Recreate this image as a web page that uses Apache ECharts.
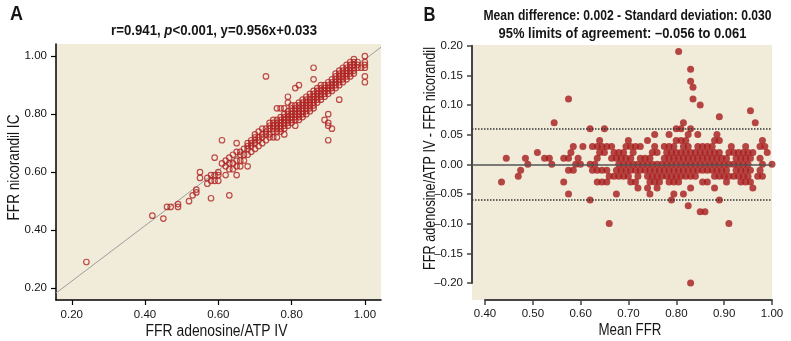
<!DOCTYPE html>
<html><head><meta charset="utf-8">
<script src="https://cdn.jsdelivr.net/npm/echarts@6/dist/echarts.min.js"></script>
<style>html,body{margin:0;padding:0;background:#fff}#c{width:791px;height:341px}</style>
</head><body><div id="c"></div>
<script>
// ---------- Panel A data: FFR adenosine/ATP IV (x) vs FFR nicorandil IC (y) ----------
const aTicks = [0.2, 0.4, 0.6, 0.8, 1.0];
const aCols = [
 [0.24,[0.29]],[0.42,[0.45]],[0.45,[0.44]],[0.46,[0.48]],[0.47,[0.48]],
 [0.49,[0.49,0.48]],[0.52,[0.50]],[0.53,[0.52]],[0.54,[0.54,0.53]],
 [0.55,[0.60,0.58]],[0.57,[0.58,0.56]],[0.58,[0.59,0.57,0.51]],[0.59,[0.59,0.57,0.65]],
 [0.60,[0.60,0.59,0.57]],[0.61,[0.63,0.71]],[0.62,[0.59,0.62,0.64]],[0.63,[0.52,0.61,0.63,0.65]],
 [0.64,[0.61,0.63,0.66]],[0.65,[0.59,0.62,0.64,0.67,0.70]],[0.66,[0.62,0.64,0.66,0.67]],
 [0.67,[0.64,0.66,0.68]],[0.68,[0.62,0.66,0.68,0.69,0.70]],[0.69,[0.67,0.69,0.70,0.71]],
 [0.70,[0.68,0.70,0.71,0.72,0.73]],[0.71,[0.69,0.71,0.72,0.74]],[0.72,[0.70,0.72,0.73,0.75]],
 [0.73,[0.71,0.73,0.74,0.75,0.93]],[0.74,[0.72,0.73,0.75,0.76,0.77]],
 [0.75,[0.72,0.74,0.75,0.76,0.77,0.78]],[0.76,[0.72,0.74,0.75,0.76,0.77,0.78,0.82]],
 [0.77,[0.74,0.75,0.76,0.77,0.78,0.79,0.82]],[0.78,[0.73,0.75,0.76,0.77,0.78,0.79,0.80,0.82]],
 [0.79,[0.76,0.77,0.78,0.79,0.80,0.81,0.84,0.86]],[0.80,[0.77,0.78,0.79,0.80,0.81,0.82,0.83]],
 [0.81,[0.76,0.78,0.79,0.80,0.81,0.82,0.83,0.89]],[0.82,[0.78,0.79,0.80,0.81,0.82,0.83,0.84,0.90]],
 [0.83,[0.79,0.80,0.81,0.82,0.83,0.84,0.85]],[0.84,[0.80,0.81,0.82,0.83,0.84,0.85,0.86]],
 [0.85,[0.81,0.82,0.83,0.84,0.85,0.86,0.87]],[0.86,[0.82,0.83,0.84,0.85,0.86,0.87,0.88,0.92,0.96]],
 [0.87,[0.84,0.85,0.86,0.87,0.88,0.89]],[0.88,[0.85,0.86,0.87,0.88,0.89,0.90]],
 [0.89,[0.78,0.86,0.87,0.88,0.89,0.90]],[0.90,[0.71,0.76,0.77,0.80,0.87,0.88,0.89,0.90,0.91]],
 [0.91,[0.75,0.88,0.89,0.90,0.91,0.92]],[0.92,[0.89,0.90,0.91,0.92,0.93,0.94]],
 [0.93,[0.85,0.90,0.91,0.92,0.93,0.94,0.95]],[0.94,[0.91,0.92,0.93,0.94,0.95,0.96]],
 [0.95,[0.92,0.93,0.94,0.95,0.96,0.97]],[0.96,[0.93,0.94,0.95,0.96,0.97,0.98]],
 [0.97,[0.94,0.95,0.96,0.97,0.98,0.99]],[0.98,[0.96,0.97,0.98]],[0.99,[0.96]],
 [1.00,[0.91,0.93,0.96,0.97,0.98,1.00]]
];
const aFitLine = [[0.157, 0.183], [1.044, 1.031]];   // y = 0.956x + 0.033

// ---------- Panel B data: Bland-Altman (mean FFR, difference) ----------
const bXTicksRange = [0.4, 1.0];
const bYTicksRange = [-0.2, 0.2];
const bRefLine = 0.0;
const bLimits = [0.061, -0.056];
const bRows = [
 [0.19,[0.805]],[0.16,[0.83]],[0.14,[0.83]],[0.13,[0.835]],[0.11,[0.575,0.835]],
 [0.10,[0.85]],[0.09,[0.955]],[0.08,[0.89]],[0.07,[0.545,0.815,0.965]],
 [0.06,[0.62,0.65,0.80,0.81,0.83]],[0.05,[0.755,0.785,0.825,0.845,0.885]],
 [0.04,[0.64,0.70,0.74,0.80,0.81,0.82,0.88,0.89,0.98]],
 [0.03,[0.585,0.605,0.625,0.635,0.645,0.655,0.665,0.695,0.705,0.715,0.725,0.755,0.775,0.785,0.795,0.815,0.825,0.845,0.855,0.865,0.875,0.915,0.945,0.975,0.985]],
 [0.02,[0.51,0.58,0.64,0.65,0.67,0.68,0.69,0.71,0.75,0.76,0.78,0.79,0.80,0.81,0.82,0.83,0.84,0.85,0.86,0.87,0.88,0.89,0.91,0.92,0.93,0.94,0.95,0.96,0.99]],
 [0.01,[0.445,0.485,0.525,0.535,0.565,0.575,0.595,0.635,0.665,0.675,0.685,0.695,0.705,0.725,0.735,0.745,0.775,0.785,0.795,0.805,0.815,0.825,0.835,0.845,0.855,0.865,0.875,0.885,0.895,0.905,0.925,0.935,0.945,0.955,0.975]],
 [0.00,[0.49,0.54,0.59,0.60,0.62,0.63,0.68,0.69,0.70,0.71,0.72,0.73,0.74,0.75,0.76,0.77,0.78,0.79,0.80,0.81,0.82,0.83,0.84,0.85,0.86,0.87,0.88,0.89,0.90,0.91,0.92,0.93,0.94,0.95,0.98,1.00]],
 [-0.01,[0.475,0.575,0.585,0.625,0.635,0.645,0.655,0.675,0.685,0.695,0.705,0.715,0.725,0.735,0.745,0.755,0.765,0.775,0.785,0.795,0.805,0.815,0.825,0.835,0.845,0.855,0.865,0.875,0.885,0.895,0.905,0.925,0.935,0.945,0.955,0.975]],
 [-0.02,[0.47,0.66,0.67,0.68,0.69,0.70,0.72,0.74,0.75,0.76,0.77,0.78,0.79,0.80,0.81,0.82,0.83,0.84,0.88,0.89,0.90,0.91,0.92,0.93,0.94,0.95,0.97,0.98]],
 [-0.03,[0.435,0.565,0.635,0.645,0.655,0.705,0.715,0.745,0.755,0.765,0.785,0.795,0.805,0.855,0.865,0.905,0.935,0.945,0.955]],
 [-0.04,[0.72,0.74,0.76,0.83,0.88,0.96]],
 [-0.05,[0.575,0.675,0.745,0.795,0.815]],
 [-0.06,[0.62,0.79,0.89]],[-0.07,[0.825]],[-0.08,[0.85,0.86]],[-0.10,[0.66,0.91]],[-0.20,[0.83]]
];

// ---------- build ----------
const aData = [];
aCols.forEach(([x, ys]) => ys.forEach(y => aData.push([x, y])));
const bData = [];
bRows.forEach(([d, ms]) => ms.forEach(m => bData.push([m, d])));

const FONT = '"Liberation Sans", Arial, sans-serif';
const BG = '#f1ecda';
const INK = '#161616';
const fmt = v => (v < 0 ? '\u2013' + Math.abs(v).toFixed(2) : v.toFixed(2));
const lbl = { fontFamily: FONT, fontSize: 11.5, color: INK };

const mctx = document.createElement('canvas').getContext('2d');
// condensed look: horizontally compress text so it spans the reference width
function fitText(x, y, text, font, targetW, rot, rich, plain) {
  mctx.font = font;
  const w = mctx.measureText(plain || text).width;
  const s = { text: text, font: font, fill: INK, align: 'center', verticalAlign: 'middle',
              textAlign: 'center', textVerticalAlign: 'middle' };
  if (rich) s.rich = rich;
  return { type: 'text', x: x, y: y, rotation: rot || 0, scaleX: targetW / w, scaleY: 1,
           style: s, silent: true, z: 100 };
}

const TF = 'bold 15.5px ' + FONT;
const LF = '16px ' + FONT;
const aTitlePlain = 'r=0.941, p<0.001, y=0.956x+0.033';

const chart = echarts.init(document.getElementById('c'), null, { renderer: 'canvas' });
chart.setOption({
  animation: false,
  backgroundColor: '#ffffff',
  grid: [
    { left: 56, top: 44, width: 325, height: 256, show: true, backgroundColor: BG, borderWidth: 0, containLabel: false },
    { left: 472, top: 45, width: 300, height: 255, show: true, backgroundColor: BG, borderWidth: 0, containLabel: false },
    { left: 472, top: 45.7, width: 300, height: 237.3, containLabel: false },
    { left: 485, top: 45, width: 287, height: 255, containLabel: false }
  ],
  xAxis: [
    { gridIndex: 0, type: 'value', min: 0.157, max: 1.044,
      axisLine: { show: true, onZero: false, lineStyle: { color: '#000', width: 1.5 } },
      axisTick: { show: true, customValues: aTicks, length: 5, lineStyle: { color: '#000', width: 1.2 } },
      axisLabel: Object.assign({ customValues: aTicks, formatter: fmt, margin: 9 }, lbl),
      splitLine: { show: false } },
    { gridIndex: 1, type: 'value', min: 0.3734, max: 1.0, show: false },
    { gridIndex: 2, type: 'value', min: 0, max: 1, show: false },
    { gridIndex: 3, type: 'value', min: bXTicksRange[0], max: bXTicksRange[1], interval: 0.1,
      axisLine: { show: true, onZero: false, lineStyle: { color: '#444', width: 2 } },
      axisTick: { show: true, length: 5, lineStyle: { color: '#444', width: 1.5 } },
      axisLabel: Object.assign({ formatter: fmt, margin: 8 }, lbl),
      splitLine: { show: false } }
  ],
  yAxis: [
    { gridIndex: 0, type: 'value', min: 0.159, max: 1.042,
      axisLine: { show: true, onZero: false, lineStyle: { color: '#000', width: 1.5 } },
      axisTick: { show: true, customValues: aTicks, length: 5, lineStyle: { color: '#000', width: 1.2 } },
      axisLabel: Object.assign({ customValues: aTicks, formatter: fmt, margin: 9 }, lbl),
      splitLine: { show: false } },
    { gridIndex: 1, type: 'value', min: -0.2287, max: 0.201, show: false },
    { gridIndex: 2, type: 'value', min: bYTicksRange[0], max: bYTicksRange[1], interval: 0.05,
      axisLine: { show: true, onZero: false, lineStyle: { color: '#444', width: 2 } },
      axisTick: { show: true, length: 5, lineStyle: { color: '#444', width: 1.5 } },
      axisLabel: Object.assign({ formatter: fmt, margin: 9 }, lbl),
      splitLine: { show: false } },
    { gridIndex: 3, type: 'value', min: 0, max: 1, show: false }
  ],
  series: [
    { type: 'line', xAxisIndex: 0, yAxisIndex: 0, data: aFitLine, symbol: 'none', silent: true,
      lineStyle: { color: '#9c9c9c', width: 1 }, z: 1 },
    { type: 'scatter', xAxisIndex: 0, yAxisIndex: 0, data: aData, symbol: 'circle', symbolSize: 5.5,
      itemStyle: { color: 'rgba(0,0,0,0)', borderColor: '#b02323', borderWidth: 1.2 }, z: 3 },
    { type: 'scatter', xAxisIndex: 1, yAxisIndex: 1, data: [], z: 1, silent: true,
      markLine: { silent: true, symbol: ['none', 'none'], label: { show: false },
        data: [
          { yAxis: bRefLine, lineStyle: { color: '#555', width: 1.5, type: 'solid' } },
          { yAxis: bLimits[0], lineStyle: { color: '#333', width: 1.5, type: [1.5, 1.5] } },
          { yAxis: bLimits[1], lineStyle: { color: '#333', width: 1.5, type: [1.5, 1.5] } }
        ] } },
    { type: 'scatter', xAxisIndex: 1, yAxisIndex: 1, data: bData, symbol: 'circle', symbolSize: 7,
      itemStyle: { color: '#a61c1c' }, z: 3 }
  ],
  graphic: [
    fitText(16.5, 14, 'A', 'bold 20px ' + FONT, 13),
    fitText(429.5, 15, 'B', 'bold 20px ' + FONT, 12),
    fitText(214, 31, '{n|r=0.941, }{i|p}{n|<0.001, y=0.956x+0.033}', TF, 206, 0,
        { n: { fontFamily: FONT, fontWeight: 'bold', fontSize: 15.5, color: INK },
          i: { fontFamily: FONT, fontWeight: 'bold', fontStyle: 'italic', fontSize: 15.5, color: INK } },
        aTitlePlain),
    fitText(627.5, 16, 'Mean difference: 0.002 - Standard deviation: 0.030', TF, 288),
    fitText(622.5, 33.5, '95% limits of agreement: \u20130.056 to 0.061', TF, 248),
    fitText(216.5, 331.5, 'FFR adenosine/ATP IV', LF, 142),
    fitText(15, 167.5, 'FFR nicorandil IC', LF, 106, Math.PI / 2),
    fitText(630, 331, 'Mean FFR', LF, 63),
    fitText(431, 158.5, 'FFR adenosine/ATP IV - FFR nicorandil', LF, 223, Math.PI / 2)
  ]
});
</script></body></html>
